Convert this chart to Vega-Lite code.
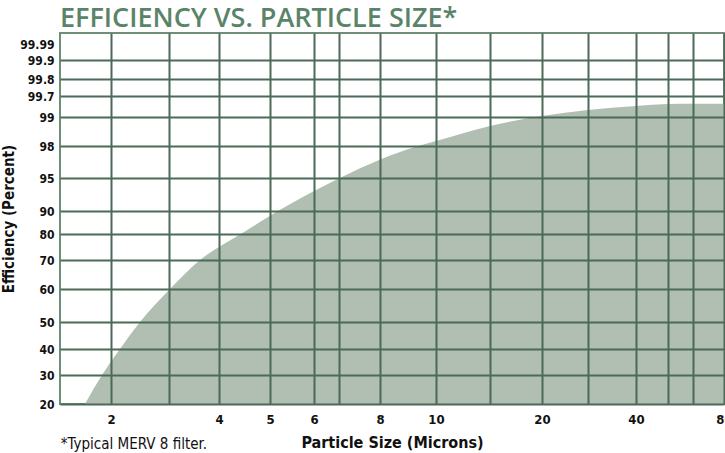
{
  "$schema": "https://vega.github.io/schema/vega-lite/v6.json",
  "background": "white",
  "padding": {"left": 0, "top": 4, "right": 0, "bottom": 0},
  "title": {
    "text": "*Typical MERV 8 filter.",
    "orient": "bottom",
    "anchor": "start",
    "font": "Liberation Sans Narrow, DejaVu Sans Condensed, sans-serif",
    "fontWeight": "normal",
    "fontSize": 15,
    "color": "#111111",
    "offset": -14,
    "dx": 60
  },
  "vconcat": [
    {
      "width": 664,
      "height": 371,
      "title": {
        "text": "EFFICIENCY VS. PARTICLE SIZE*",
        "anchor": "start",
        "frame": "group",
        "orient": "top",
        "font": "Open Sans",
        "fontWeight": 600,
        "fontSize": 27,
        "color": "#5a8468",
        "offset": 0
      },
      "data": {
        "values": [
          {"size": 1.745, "eff": 20},
          {"size": 1.912, "eff": 30},
          {"size": 2.155, "eff": 40},
          {"size": 2.5, "eff": 50},
          {"size": 3.02, "eff": 60},
          {"size": 3.62, "eff": 70},
          {"size": 4.43, "eff": 80},
          {"size": 5.18, "eff": 90},
          {"size": 7.02, "eff": 95},
          {"size": 7.98, "eff": 96.69},
          {"size": 9.36, "eff": 98},
          {"size": 10, "eff": 98.17},
          {"size": 15, "eff": 98.69},
          {"size": 20, "eff": 99.03},
          {"size": 30, "eff": 99.23},
          {"size": 40, "eff": 99.37},
          {"size": 50, "eff": 99.43},
          {"size": 60, "eff": 99.44},
          {"size": 80, "eff": 99.44}
        ]
      },
      "mark": {"type": "area", "color": "#b0bfb1", "interpolate": "monotone", "clip": true},
      "encoding": {
        "x": {
          "field": "size",
          "type": "quantitative",
          "scale": {
            "domain": [1.5, 2, 3, 4, 5, 6, 7, 8, 10, 15, 20, 30, 40, 50, 60, 80],
            "range": [0, 51, 109, 159, 210, 254, 279, 320, 376, 430, 482, 528, 576, 608, 633, 664],
            "nice": false,
            "zero": false
          },
          "axis": {
            "title": "Particle Size (Microns)",
            "values": [2, 3, 4, 5, 6, 7, 8, 10, 15, 20, 30, 40, 50, 60, 80],
            "labelExpr": "indexof([2,4,5,6,8,10,20,40,80], datum.value) >= 0 ? datum.value + '' : ''",
            "labelFlush": false,
            "labelOverlap": false,
            "grid": true,
            "gridColor": "#4b6a58",
            "gridWidth": 2,
            "gridOpacity": 1,
            "ticks": false,
            "domain": false,
            "labelPadding": 9,
            "labelFont": "Liberation Sans Narrow, DejaVu Sans Condensed, sans-serif",
            "labelFontWeight": "bold",
            "labelFontSize": 13,
            "labelColor": "#111111",
            "titleFont": "Liberation Sans Narrow, DejaVu Sans Condensed, sans-serif",
            "titleFontWeight": "bold",
            "titleFontSize": 16,
            "titleColor": "#111111",
            "titlePadding": 8,
            "zindex": 1
          }
        },
        "y": {
          "field": "eff",
          "type": "quantitative",
          "scale": {
            "domain": [20, 30, 40, 50, 60, 70, 80, 90, 95, 98, 99, 99.7, 99.8, 99.9, 99.99, 100],
            "range": [371, 342, 316, 289, 256, 227, 201, 178, 145, 113, 84, 63, 46, 27, 11, 0],
            "nice": false,
            "zero": false
          },
          "axis": {
            "title": "Efficiency (Percent)",
            "values": [20, 30, 40, 50, 60, 70, 80, 90, 95, 98, 99, 99.7, 99.8, 99.9, 99.99],
            "labelExpr": "datum.value + ''",
            "labelOverlap": false,
            "grid": true,
            "gridColor": "#4b6a58",
            "gridWidth": 2,
            "gridOpacity": {"condition": {"test": "datum.value == 99.99", "value": 0}, "value": 1},
            "ticks": false,
            "domain": false,
            "labelPadding": 6,
            "labelFont": "Liberation Sans Narrow, DejaVu Sans Condensed, sans-serif",
            "labelFontWeight": "bold",
            "labelFontSize": 12,
            "labelColor": "#111111",
            "titleFont": "Liberation Sans Narrow, DejaVu Sans Condensed, sans-serif",
            "titleFontWeight": "bold",
            "titleFontSize": 15,
            "titleColor": "#111111",
            "titlePadding": 3,
            "zindex": 1
          }
        },
        "y2": {"datum": 20}
      }
    }
  ],
  "config": {
    "view": {"stroke": "#6f8e7a", "strokeWidth": 2}
  }
}
